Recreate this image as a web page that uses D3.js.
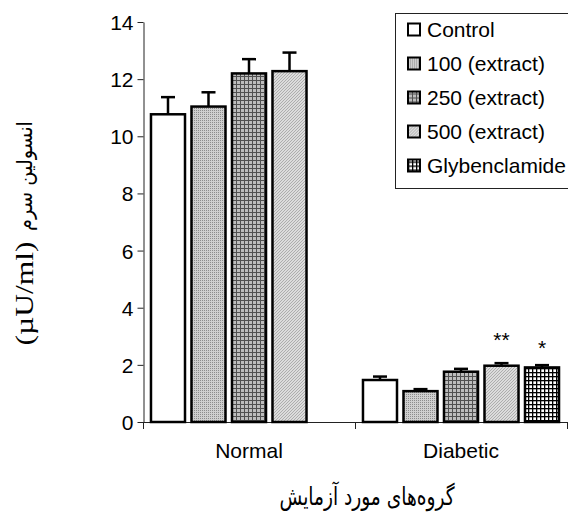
<!DOCTYPE html>
<html>
<head>
<meta charset="utf-8">
<script src="https://cdn.jsdelivr.net/npm/d3@7"></script>
<style>
html,body{margin:0;padding:0;background:#fff;}
svg{display:block;}
</style>
</head>
<body>
<svg id="chart" width="568" height="517"></svg>
<script>
// ---- data ----
const groups = ["Normal", "Diabetic"];
const series = ["Control", "100 (extract)", "250 (extract)", "500 (extract)", "Glybenclamide"];
const normalValues   = [10.77, 11.04, 12.2, 12.28, null];
const normalErrors   = [0.6, 0.5, 0.5, 0.65, null];
const diabeticValues = [1.47, 1.08, 1.76, 1.97, 1.91];
const diabeticErrors = [0.12, 0.07, 0.1, 0.09, 0.08];
const diabeticMarks  = ["", "", "", "**", "*"];
const yTicks = [0, 2, 4, 6, 8, 10, 12, 14];
const yTitleUnit = "(µU/ml)";
const yTitleFa = "انسولین سرم";
const xTitle = "گروه‌های مورد آزمایش";

const rows = [];
groups.forEach((g, gi) => {
  const vals = gi === 0 ? normalValues : diabeticValues;
  const errs = gi === 0 ? normalErrors : diabeticErrors;
  const marks = gi === 0 ? ["", "", "", "", ""] : diabeticMarks;
  series.forEach((s, si) => {
    if (vals[si] != null) rows.push({group: g, series: s, si, value: vals[si], err: errs[si], mark: marks[si]});
  });
});

const svg = d3.select("#chart");
const font = "'Liberation Sans', Arial, sans-serif";

// ---- patterns ----
const defs = svg.append("defs");
function pat(id, size, draw) {
  const p = defs.append("pattern").attr("id", id).attr("patternUnits", "userSpaceOnUse")
    .attr("width", size).attr("height", size);
  draw(p);
}
pat("p0", 4, p => p.append("rect").attr("width", 4).attr("height", 4).attr("fill", "#fff"));
pat("p1", 2, p => {
  p.append("rect").attr("width", 2).attr("height", 2).attr("fill", "#cfcfcf");
  p.append("rect").attr("x", 0).attr("y", 0).attr("width", 1).attr("height", 1).attr("fill", "#8c8c8c");
});
pat("p2", 4, p => {
  p.append("rect").attr("width", 4).attr("height", 4).attr("fill", "#bdbdbd");
  p.append("rect").attr("x", 0).attr("y", 0).attr("width", 1).attr("height", 4).attr("fill", "#505050");
  p.append("rect").attr("x", 0).attr("y", 0).attr("width", 4).attr("height", 1).attr("fill", "#505050");
});
pat("p3", 3, p => {
  p.append("rect").attr("width", 3).attr("height", 3).attr("fill", "#dcdcdc");
  p.append("path").attr("d", "M0,3 L3,0 M-1,1 L1,-1 M2,4 L4,2").attr("stroke", "#a8a8a8").attr("stroke-width", 0.9);
});
pat("p4", 4, p => {
  p.append("rect").attr("width", 4).attr("height", 4).attr("fill", "#fff");
  p.append("rect").attr("x", 0).attr("y", 0).attr("width", 1.3).attr("height", 4).attr("fill", "#000");
  p.append("rect").attr("x", 0).attr("y", 0).attr("width", 4).attr("height", 1.3).attr("fill", "#000");
});
const fills = d3.scaleOrdinal().domain(series).range(["url(#p0)", "url(#p1)", "url(#p2)", "url(#p3)", "url(#p4)"]);

// ---- scales ----
const y = d3.scaleLinear().domain([0, 14]).range([422, 22]);
const x0 = d3.scaleBand().domain(groups).range([143, 567]).paddingInner(0).paddingOuter(0);
const x1 = d3.scaleBand().domain(series).range([0, x0.bandwidth()]).paddingInner(0.16).paddingOuter(0.197);

// ---- y axis ----
const yAxis = svg.append("g").attr("transform", "translate(143.5,0)")
  .call(d3.axisLeft(y).tickValues(yTicks).tickSize(6).tickSizeOuter(0).tickPadding(4));
yAxis.select(".domain").attr("stroke", "#222").attr("stroke-width", 1);
yAxis.selectAll(".tick line").attr("stroke", "#222");
yAxis.selectAll(".tick text").attr("font-family", font).attr("font-size", 21).attr("fill", "#000").attr("dy", "0.36em");

// ---- x axis ----
const xg = svg.append("g");
xg.append("line").attr("x1", 143).attr("x2", 567).attr("y1", 422.5).attr("y2", 422.5).attr("stroke", "#222");
const bounds = [x0.range()[0], ...groups.map(g => x0(g) + x0.bandwidth())];
xg.selectAll("line.ct").data(bounds).join("line").attr("class", "ct")
  .attr("x1", d => Math.round(d) + 0.5).attr("x2", d => Math.round(d) + 0.5)
  .attr("y1", 422).attr("y2", 429).attr("stroke", "#222");
xg.selectAll("text.cl").data(groups).join("text").attr("class", "cl")
  .attr("x", d => x0(d) + x0.bandwidth() / 2).attr("y", 458)
  .attr("text-anchor", "middle").attr("font-family", font).attr("font-size", 21).text(d => d);

// ---- bars ----
const barG = svg.append("g");
barG.selectAll("rect.bar").data(rows).join("rect").attr("class", "bar")
  .attr("x", d => x0(d.group) + x1(d.series))
  .attr("y", d => y(d.value))
  .attr("width", x1.bandwidth())
  .attr("height", d => y(0) - y(d.value))
  .attr("fill", d => fills(d.series))
  .attr("stroke", "#000").attr("stroke-width", 2.5);

// error bars
const errG = svg.append("g").attr("stroke", "#000").attr("stroke-width", 2.5);
errG.selectAll("line.ev").data(rows).join("line").attr("class", "ev")
  .attr("x1", d => x0(d.group) + x1(d.series) + x1.bandwidth() / 2)
  .attr("x2", d => x0(d.group) + x1(d.series) + x1.bandwidth() / 2)
  .attr("y1", d => y(d.value)).attr("y2", d => y(d.value + d.err));
errG.selectAll("line.ec").data(rows).join("line").attr("class", "ec")
  .attr("x1", d => x0(d.group) + x1(d.series) + x1.bandwidth() / 2 - 7)
  .attr("x2", d => x0(d.group) + x1(d.series) + x1.bandwidth() / 2 + 7)
  .attr("y1", d => y(d.value + d.err)).attr("y2", d => y(d.value + d.err));

// significance marks
svg.append("g").selectAll("text").data(rows.filter(d => d.mark)).join("text")
  .attr("x", d => x0(d.group) + x1(d.series) + x1.bandwidth() / 2)
  .attr("y", d => y(d.value + d.err) - 16 + (d.mark.length === 1 ? 6 : 0))
  .attr("text-anchor", "middle").attr("font-family", font).attr("font-size", 21)
  .text(d => d.mark);

// ---- legend ----
const lg = svg.append("g");
lg.append("rect").attr("x", 395.5).attr("y", 13.5).attr("width", 190).attr("height", 175)
  .attr("fill", "#fff").attr("stroke", "#222").attr("stroke-width", 1);
const li = lg.selectAll("g.li").data(series).join("g").attr("class", "li")
  .attr("transform", (d, i) => `translate(0,${29.5 + i * 34})`);
li.append("rect").attr("x", 408).attr("y", -6).attr("width", 12).attr("height", 12)
  .attr("fill", d => fills(d)).attr("stroke", "#000").attr("stroke-width", 2);
li.append("text").attr("x", 427).attr("y", 7).attr("font-family", font).attr("font-size", 21).text(d => d);

// ---- axis titles ----
svg.append("text").attr("transform", "translate(33,293.5) rotate(-90)")
  .attr("text-anchor", "middle").attr("font-family", "'Liberation Serif', 'Times New Roman', serif")
  .attr("font-size", 26).attr("textLength", 104).attr("lengthAdjust", "spacingAndGlyphs").text(yTitleUnit);
svg.append("text").attr("transform", "translate(32,176) rotate(-90)")
  .attr("text-anchor", "middle").attr("font-family", "'DejaVu Sans', sans-serif")
  .attr("font-size", 21).attr("textLength", 110).attr("lengthAdjust", "spacingAndGlyphs").text(yTitleFa);
svg.append("text").attr("x", 367).attr("y", 505)
  .attr("text-anchor", "middle").attr("font-family", "'DejaVu Sans', sans-serif")
  .attr("font-size", 25).attr("textLength", 175).attr("lengthAdjust", "spacingAndGlyphs").text(xTitle);
</script>
</body>
</html>
